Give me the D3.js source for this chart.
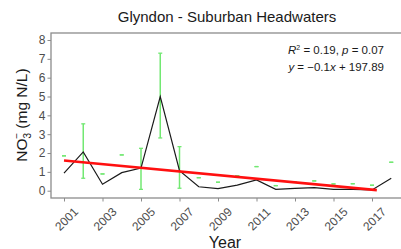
<!DOCTYPE html>
<html>
<head>
<meta charset="utf-8">
<script src="https://cdn.jsdelivr.net/npm/d3@7"></script>
<style>
  body { margin: 0; background: #fff; }
  svg { display: block; font-family: "Liberation Sans", Arial, sans-serif; }
</style>
</head>
<body>
<svg id="chart" width="401" height="249"></svg>
<script>
const years = [2001, 2002, 2003, 2004, 2005, 2006, 2007, 2008, 2009, 2010, 2011, 2012, 2013, 2014, 2015, 2016, 2017, 2018];
const meanValues = [0.93, 2.06, 0.34, 0.96, 1.2, 5.0, 1.06, 0.21, 0.11, 0.3, 0.57, 0.07, 0.12, 0.16, 0.07, 0.07, 0.04, 0.66];
const barLow = [1.85, 0.66, 0.89, 1.9, 0.07, 2.8, 0.13, 0.69, 0.45, 0.8, 1.28, 0.27, 0.45, 0.52, 0.36, 0.37, 0.29, 1.51];
const barHigh = [1.85, 3.55, 0.89, 1.9, 2.25, 7.3, 2.34, 0.69, 0.45, 0.8, 1.28, 0.27, 0.45, 0.52, 0.36, 0.37, 0.29, 1.51];
const trendYears = [2001, 2017.25];
const trendValues = [1.6, 0.03];
const xTicks = [2001, 2003, 2005, 2007, 2009, 2011, 2013, 2015, 2017];
const yTicks = [0, 1, 2, 3, 4, 5, 6, 7, 8];

const svg = d3.select('#chart');
const panel = { left: 51, top: 33, right: 402, bottom: 198 };

const x = d3.scaleLinear().domain([2001, 2017]).range([64, 372]);
const y = d3.scaleLinear().domain([0, 8]).range([190.7, 40]);

const axisColor = '#8c8c8c';
const textColor = '#4d4d4d';

// panel border (right side runs off the picture)
svg.append('rect')
  .attr('x', panel.left)
  .attr('y', panel.top)
  .attr('width', panel.right - panel.left)
  .attr('height', panel.bottom - panel.top)
  .attr('fill', 'none')
  .attr('stroke', axisColor)
  .attr('stroke-width', 1.3);

// y axis
const yAxis = svg.append('g')
  .attr('transform', `translate(${panel.left},0)`)
  .call(d3.axisLeft(y).tickValues(yTicks).tickSize(3.5).tickPadding(2));
yAxis.select('.domain').remove();
yAxis.selectAll('line').attr('stroke', axisColor);
yAxis.selectAll('text').attr('fill', textColor).style('font-size', '12px');

// x axis ticks
const xAxis = svg.append('g')
  .attr('transform', `translate(0,${panel.bottom})`)
  .call(d3.axisBottom(x).tickValues(xTicks).tickSize(3.5).tickFormat(d3.format('d')));
xAxis.select('.domain').remove();
xAxis.selectAll('line').attr('stroke', axisColor);
xAxis.selectAll('text')
  .attr('fill', textColor)
  .style('font-size', '12px')
  .attr('text-anchor', 'middle')
  .attr('dy', null)
  .attr('y', 0)
  .attr('transform', 'translate(5,24) rotate(-45)');

// error bars
const green = '#72e872';
const bars = svg.append('g');
years.forEach((yr, i) => {
  bars.append('line')
    .attr('x1', x(yr)).attr('x2', x(yr))
    .attr('y1', y(barLow[i])).attr('y2', y(barHigh[i]))
    .attr('stroke', green).attr('stroke-width', 1.5);
  [barLow[i], barHigh[i]].forEach(v => {
    bars.append('line')
      .attr('x1', x(yr) - 2).attr('x2', x(yr) + 2)
      .attr('y1', y(v)).attr('y2', y(v))
      .attr('stroke', green).attr('stroke-width', 1.3);
  });
});

// annual mean line
const line = d3.line().x((d, i) => x(years[i])).y(d => y(d));
svg.append('path')
  .datum(meanValues)
  .attr('d', line)
  .attr('fill', 'none')
  .attr('stroke', '#1a1a1a')
  .attr('stroke-width', 1.2);

// trend line
svg.append('line')
  .attr('x1', x(trendYears[0])).attr('y1', y(trendValues[0]))
  .attr('x2', x(trendYears[1])).attr('y2', y(trendValues[1]))
  .attr('stroke', '#ff1010')
  .attr('stroke-width', 2.6);

// title
svg.append('text')
  .attr('x', 227).attr('y', 22)
  .attr('text-anchor', 'middle')
  .style('font-size', '15px')
  .attr('fill', '#1a1a1a')
  .text('Glyndon - Suburban Headwaters');

// regression annotation
const ann1 = svg.append('text')
  .attr('x', 384).attr('y', 53.5)
  .attr('text-anchor', 'end')
  .style('font-size', '11.5px')
  .attr('fill', '#1a1a1a');
ann1.append('tspan').style('font-style', 'italic').text('R');
ann1.append('tspan').attr('dy', -4).style('font-size', '7px').text('2');
ann1.append('tspan').attr('dy', 4).text(' = 0.19, ');
ann1.append('tspan').style('font-style', 'italic').text('p');
ann1.append('tspan').text(' = 0.07');

const ann2 = svg.append('text')
  .attr('x', 384).attr('y', 70.5)
  .attr('text-anchor', 'end')
  .style('font-size', '11.5px')
  .attr('fill', '#1a1a1a');
ann2.append('tspan').style('font-style', 'italic').text('y');
ann2.append('tspan').text(' = \u22120.1');
ann2.append('tspan').style('font-style', 'italic').text('x');
ann2.append('tspan').text(' +  197.89');

// axis titles
svg.append('text')
  .attr('x', 225).attr('y', 247.5)
  .attr('text-anchor', 'middle')
  .style('font-size', '16px')
  .attr('fill', '#1a1a1a')
  .text('Year');

const yTitle = svg.append('text')
  .attr('transform', 'translate(27,115) rotate(-90)')
  .attr('text-anchor', 'middle')
  .style('font-size', '15.5px')
  .attr('fill', '#1a1a1a');
yTitle.append('tspan').text('NO');
yTitle.append('tspan').attr('dy', 4).style('font-size', '10px').text('3');
yTitle.append('tspan').attr('dx', -6).attr('dy', -11).style('font-size', '10px').text('\u2212');
yTitle.append('tspan').attr('dy', 7).text(' (mg N/L)');
</script>
</body>
</html>
